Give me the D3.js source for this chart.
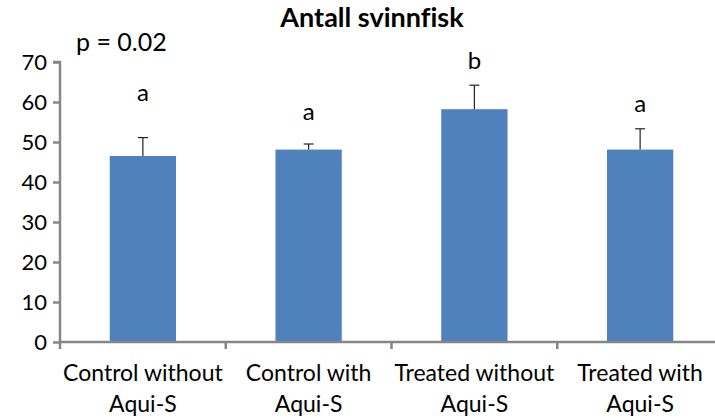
<!DOCTYPE html>
<html>
<head>
<meta charset="utf-8">
<script src="https://cdn.jsdelivr.net/npm/d3@7"></script>
<style>
  body { margin: 0; background: #fff; }
  text { font-family: Lato, "Noto Sans", sans-serif; fill: #000; font-variant-ligatures: none; }
</style>
</head>
<body>
<div id="chart"></div>
<script>
// data
let categories = [["Control without", "Aqui-S"], ["Control with", "Aqui-S"],
                  ["Treated without", "Aqui-S"], ["Treated with", "Aqui-S"]];
let means = [46.5, 48.1, 58.2, 48.1];
let errors = [4.6, 1.4, 6.0, 5.2];
let letters = ["a", "a", "b", "a"];
let letterLevel = [60.3, 55.5, 68.3, 57.5];
let yTicks = [0, 10, 20, 30, 40, 50, 60, 70];

let svgWidth = 715;
let svgHeight = 418;

let svg = d3.select("#chart")
  .append("svg")
  .attr("width", svgWidth)
  .attr("height", svgHeight)

let xScale = d3.scaleBand()
  .domain(d3.range(categories.length))
  .range([60, 723])
  .paddingInner(0.6)
  .paddingOuter(0.3)

let yScale = d3.scaleLinear().domain([0, 70]).range([342, 62])

// bars
svg.selectAll("rect.bar")
  .data(means)
  .enter()
  .append("rect")
  .attr("class", "bar")
  .attr("x", (d, i) => xScale(i))
  .attr("width", xScale.bandwidth())
  .attr("y", d => yScale(d))
  .attr("height", d => yScale(0) - yScale(d))
  .attr("fill", "#4f81bd")

// error bars (upper only)
let err = svg.selectAll("g.err")
  .data(means)
  .enter()
  .append("g")
  .attr("class", "err")
  .attr("stroke", "#222")
  .attr("stroke-width", 1.2)

err.append("line")
  .attr("x1", (d, i) => xScale(i) + xScale.bandwidth() / 2)
  .attr("x2", (d, i) => xScale(i) + xScale.bandwidth() / 2)
  .attr("y1", d => yScale(d))
  .attr("y2", (d, i) => yScale(d + errors[i]))

err.append("line")
  .attr("x1", (d, i) => xScale(i) + xScale.bandwidth() / 2 - 5)
  .attr("x2", (d, i) => xScale(i) + xScale.bandwidth() / 2 + 5)
  .attr("y1", (d, i) => yScale(d + errors[i]))
  .attr("y2", (d, i) => yScale(d + errors[i]))

// significance letters
svg.selectAll("text.letter")
  .data(letters)
  .enter()
  .append("text")
  .attr("class", "letter")
  .attr("x", (d, i) => xScale(i) + xScale.bandwidth() / 2)
  .attr("y", (d, i) => yScale(letterLevel[i]))
  .attr("text-anchor", "middle")
  .style("font-size", "24px")
  .text(d => d)

// y axis
let yAxis = d3.axisLeft(yScale).tickValues(yTicks).tickSize(7).tickPadding(6)
let yG = svg.append("g")
  .attr("transform", "translate(60,0)")
  .call(yAxis)
yG.selectAll("path, line").attr("stroke", "#868686").attr("stroke-width", 2.5)
yG.select(".domain").attr("d", `M-7,${yScale(70)}H0V${yScale(0)}`)
yG.selectAll("text").style("font-size", "22px").attr("fill", "#000")

// x axis
let xG = svg.append("g").attr("transform", `translate(0,${yScale(0)})`)
xG.append("line")
  .attr("x1", 60).attr("x2", svgWidth)
  .attr("stroke", "#868686").attr("stroke-width", 2.5)
let dividers = d3.range(categories.length + 1).map(i => 60 + i * xScale.step())
xG.selectAll("line.div")
  .data(dividers)
  .enter()
  .append("line")
  .attr("class", "div")
  .attr("x1", d => d).attr("x2", d => d)
  .attr("y1", 0).attr("y2", 7)
  .attr("stroke", "#868686").attr("stroke-width", 2.5)

let labels = xG.selectAll("text.cat")
  .data(categories)
  .enter()
  .append("text")
  .attr("class", "cat")
  .attr("text-anchor", "middle")
  .style("font-size", "23px")
labels.each(function(d, i) {
  let t = d3.select(this)
  d.forEach((line, j) => {
    t.append("tspan")
      .attr("x", xScale(i) + xScale.bandwidth() / 2)
      .attr("y", 39 + j * 31)
      .text(line)
  })
})

// title and p-value
svg.append("text")
  .attr("x", 372)
  .attr("y", 27)
  .attr("text-anchor", "middle")
  .style("font-size", "27px")
  .style("font-weight", "bold")
  .text("Antall svinnfisk")

svg.append("text")
  .attr("x", 76)
  .attr("y", 51)
  .style("font-size", "25px")
  .text("p = 0.02")
</script>
</body>
</html>
